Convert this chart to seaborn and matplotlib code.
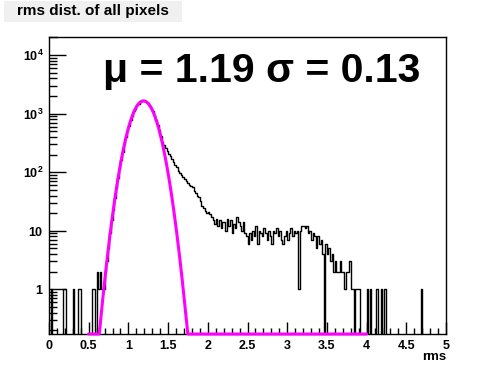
import numpy as np
import pandas as pd
import matplotlib
matplotlib.use("Agg")
import matplotlib.pyplot as plt
from matplotlib.patches import Rectangle
from matplotlib.ticker import FixedLocator, NullFormatter
import seaborn as sns

# histogram: 250 bins of width 0.02 between 0 and 5, counts
bin_width = 0.02
counts = [
    0, 1, 0, 0, 0, 0, 0, 0, 0, 1,                       # 0.0 - 0.2
    1, 0, 0, 0, 0, 1, 0, 0, 1, 1,                       # 0.2 - 0.4
    0, 0, 0, 0, 0, 0, 0, 1, 1, 0,                       # 0.4 - 0.6
    2, 1, 2, 1, 1, 2, 3, 5, 9, 15,                      # 0.6 - 0.8
    23, 36, 54, 80, 115, 162, 223, 301, 394, 506,       # 0.8 - 1.0
    620, 790, 910, 1090, 1210, 1380, 1470, 1590, 1620, 1660,  # 1.0 - 1.2
    1640, 1560, 1500, 1350, 1240, 1090, 940, 790, 650, 530,   # 1.2 - 1.4
    410, 330, 290, 260, 230, 205, 190, 165, 150, 135,   # 1.4 - 1.6
    125, 105, 96, 88, 82, 76, 72, 66, 60, 58,           # 1.6 - 1.8
    55, 48, 45, 40, 38, 32, 26, 24, 22, 20,             # 1.8 - 2.0
    21, 19, 17, 15, 13, 16, 12, 15, 11, 14,             # 2.0 - 2.2
    14, 10, 16, 12, 15, 9, 13, 11, 17, 14,              # 2.2 - 2.4
    12, 10, 14, 9, 8, 6, 9, 7, 10, 8,                   # 2.4 - 2.6
    12, 6, 10, 9, 8, 11, 9, 7, 10, 8,                   # 2.6 - 2.8
    6, 10, 9, 11, 8, 10, 7, 6, 8, 10,                   # 2.8 - 3.0
    7, 9, 11, 8, 10, 9, 10, 1, 10, 12,                  # 3.0 - 3.2
    12, 11, 12, 9, 10, 7, 9, 8, 5, 8,                   # 3.2 - 3.4
    6, 7, 4, 0, 6, 4, 5, 3, 4, 2,                       # 3.4 - 3.6
    3, 2, 2, 3, 2, 2, 1, 2, 2, 3,                       # 3.6 - 3.8
    1, 1, 0, 1, 1, 1, 0, 0, 0, 0,                       # 3.8 - 4.0
    1, 0, 1, 0, 0, 0, 1, 0, 0, 1,                       # 4.0 - 4.2
    0, 1, 0, 0, 0, 0, 0, 0, 0, 0,                       # 4.2 - 4.4
    0, 0, 0, 0, 0, 0, 0, 0, 0, 0,                       # 4.4 - 4.6
    0, 0, 0, 0, 1, 0, 0, 0, 0, 0,                       # 4.6 - 4.8
    0, 0, 0, 0, 0, 0, 0, 0, 0, 0,                       # 4.8 - 5.0
]

# gaussian fit shown in the plot
fit_mu = 1.19
fit_sigma = 0.13
fit_amp = 1650
fit_range = (0.5, 4.0)

x_ticks = [0, 0.5, 1, 1.5, 2, 2.5, 3, 3.5, 4, 4.5, 5]
x_tick_labels = ["0", "0.5", "1", "1.5", "2", "2.5", "3", "3.5", "4", "4.5", "5"]
y_ticks = [1, 10, 100, 1000, 10000]
y_tick_labels = [r"$\mathbf{1}$", r"$\mathbf{10}$", r"$\mathbf{10^{2}}$",
                 r"$\mathbf{10^{3}}$", r"$\mathbf{10^{4}}$"]
title = "rms dist. of all pixels"
x_label = "rms"
y_range = (0.173, 20300)

sns.set_style("white")
plt.rcParams["font.family"] = ["Liberation Sans", "DejaVu Sans"]
plt.rcParams["mathtext.fontset"] = "custom"
plt.rcParams["mathtext.rm"] = "Liberation Sans"
plt.rcParams["mathtext.bf"] = "Liberation Sans:bold"
plt.rcParams["text.color"] = "black"
plt.rcParams["xtick.color"] = "black"
plt.rcParams["ytick.color"] = "black"

centers = (np.arange(len(counts)) + 0.5) * bin_width
df = pd.DataFrame({"rms": centers, "n": counts})

fig = plt.figure(figsize=(4.96, 3.72), dpi=100)
ax = fig.add_axes([49 / 496, 1 - 334 / 372, 397 / 496, 297 / 372])

sns.histplot(data=df, x="rms", weights="n", binwidth=bin_width,
             binrange=(0, len(counts) * bin_width), element="step", fill=False,
             color="black", linewidth=1.0, ax=ax)

xf = np.linspace(fit_range[0], fit_range[1], 800)
gf = fit_amp * np.exp(-0.5 * ((xf - fit_mu) / fit_sigma) ** 2)
gf = np.maximum(gf, y_range[0])
sns.lineplot(x=xf, y=gf, color="#ff00ff", linewidth=2.2, ax=ax, sort=False,
             clip_on=False, zorder=3)

ax.set_yscale("log")
ax.set_xlim(0, 5)
ax.set_ylim(*y_range)

ax.set_xticks(x_ticks)
ax.set_xticklabels(x_tick_labels, fontsize=9, fontweight="bold")
ax.xaxis.set_minor_locator(FixedLocator(np.arange(0, 5.01, 0.1)))
ax.set_yticks(y_ticks)
ax.set_yticklabels(y_tick_labels, fontsize=9)
minor_y = [m * 10.0 ** e for e in range(-1, 5) for m in range(2, 10)]
ax.yaxis.set_minor_locator(FixedLocator(minor_y))
ax.yaxis.set_minor_formatter(NullFormatter())

ax.tick_params(which="both", bottom=True, left=True, top=False, right=False,
               direction="in", color="black", width=1)
ax.tick_params(axis="x", which="major", length=9, pad=4)
ax.tick_params(axis="x", which="minor", length=4.5)
ax.tick_params(axis="y", which="major", length=12, pad=4)
ax.tick_params(axis="y", which="minor", length=6)
for s in ax.spines.values():
    s.set_color("black")
    s.set_linewidth(1)

ax.set_xlabel("")
ax.set_ylabel("")
fig.text(446 / 496, 1 - 357 / 372, x_label, ha="right", va="center",
         fontsize=9.5, fontweight="bold")

# title box
fig.patches.append(Rectangle((4 / 496, 1 - 22 / 372), 178 / 496, 21 / 372,
                             transform=fig.transFigure, facecolor="#f0f0f0",
                             edgecolor="none"))
fig.text(93 / 496, 1 - 11.5 / 372, title, ha="center", va="center",
         fontsize=11, fontweight="bold")

fig.text(103 / 496, 1 - 82 / 372, "\u03bc = 1.19 \u03c3 = 0.13", ha="left",
         va="baseline", fontsize=29.5, fontweight="bold")

fig.savefig("out.png", dpi=100)
